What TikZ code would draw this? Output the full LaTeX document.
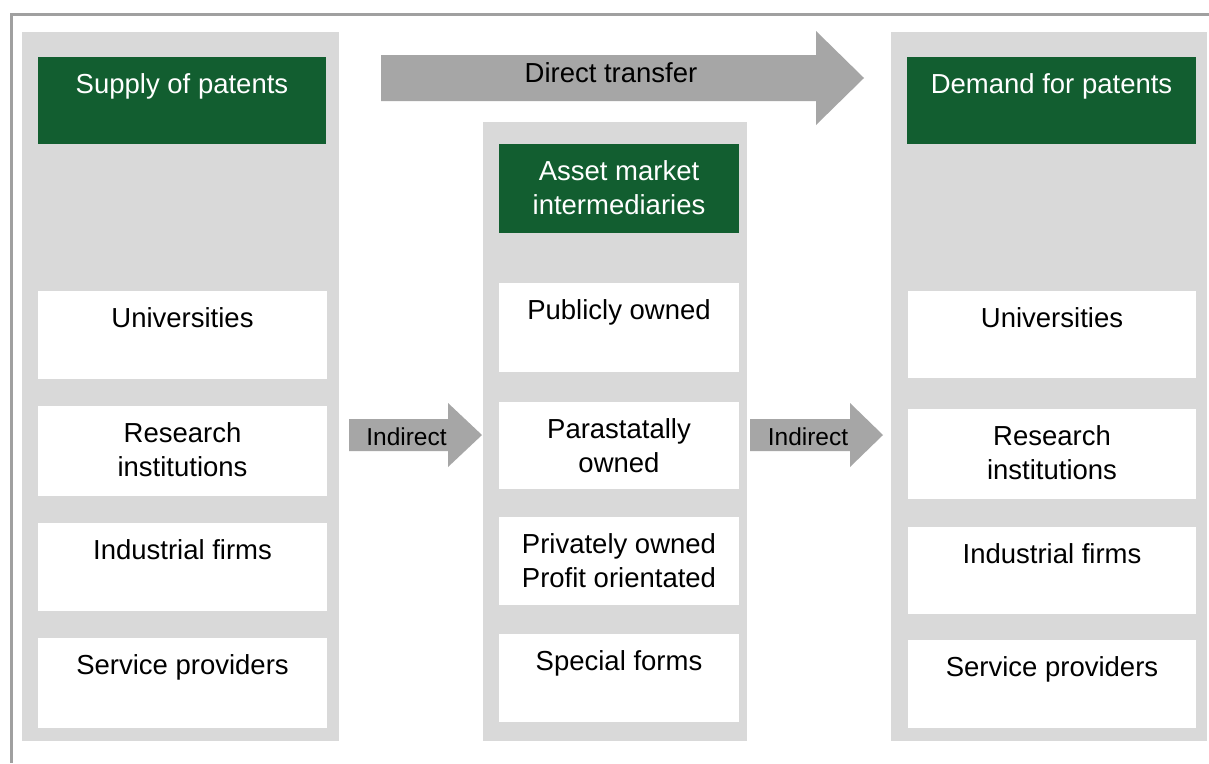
\documentclass[tikz,border=0pt]{standalone}
\usepackage{fontspec}
\setmainfont{Liberation Sans}
\definecolor{hdrgreen}{RGB}{18,94,48}
\definecolor{colgray}{RGB}{217,217,217}
\definecolor{arrgray}{RGB}{166,166,166}
\definecolor{framegray}{RGB}{160,160,160}
\newcommand\mkbox[7]{%
  \node[#7, minimum width=#4pt, minimum height=#5pt, anchor=north west] (#1) at (#2,#3) {};
  \node[#7txt, anchor=north] (#1t) at ([yshift=-17pt]#1.north) {#6};}
\begin{document}
\begin{tikzpicture}[x=1pt,y=-1pt,
  every node/.style={inner sep=0pt, outer sep=0pt},
  colbg/.style={fill=colgray, draw=none, rectangle},
  wbox/.style={fill=white, draw=none, rectangle},
  gbox/.style={fill=hdrgreen, draw=none, rectangle},
  wboxtxt/.style={align=center, text=black, font=\fontsize{27.5}{34}\selectfont},
  gboxtxt/.style={align=center, text=white, font=\fontsize{27.5}{34}\selectfont},
  blockarrow/.style={fill=arrgray, draw=none},
  arrtxt/.style={text=black, anchor=base}]
\useasboundingbox (0,0) rectangle (1209,763);
\fill[white] (0,0) rectangle (1209,763);
% frame
\draw[framegray, line width=3pt] (1209,14) -- (11,14) -- (11,763);
% column backgrounds
\node[colbg, minimum width=317pt, minimum height=709pt, anchor=north west] (supcol) at (22,32) {};
\node[colbg, minimum width=264pt, minimum height=619pt, anchor=north west] (midcol) at (483,122) {};
\node[colbg, minimum width=316pt, minimum height=709pt, anchor=north west] (demcol) at (891,32) {};
% headers
\mkbox{suph}{38}{57}{288}{87}{Supply of patents}{gbox}
\mkbox{midh}{499}{144}{240}{89}{Asset market\\intermediaries}{gbox}
\mkbox{demh}{907}{57}{289}{87}{Demand for patents}{gbox}
% left column
\mkbox{s1}{38}{291}{289}{88}{Universities}{wbox}
\mkbox{s2}{38}{406}{289}{90}{Research\\institutions}{wbox}
\mkbox{s3}{38}{523}{289}{88}{Industrial firms}{wbox}
\mkbox{s4}{38}{638}{289}{90}{Service providers}{wbox}
% middle column
\mkbox{m1}{499}{283}{240}{89}{Publicly owned}{wbox}
\mkbox{m2}{499}{402}{240}{87}{Parastatally\\owned}{wbox}
\mkbox{m3}{499}{517}{240}{88}{Privately owned\\Profit orientated}{wbox}
\mkbox{m4}{499}{634}{240}{88}{Special forms}{wbox}
% right column
\mkbox{d1}{908}{291}{288}{87}{Universities}{wbox}
\mkbox{d2}{908}{409}{288}{90}{Research\\institutions}{wbox}
\mkbox{d3}{908}{527}{288}{87}{Industrial firms}{wbox}
\mkbox{d4}{908}{640}{288}{88}{Service providers}{wbox}
% block arrows
\fill[blockarrow] (381,55) -- (816,55) -- (816,31) -- (864,78) -- (816,125) -- (816,101) -- (381,101) -- cycle;
\node[arrtxt, font=\fontsize{27.5}{32}\selectfont] (directt) at (611,82) {Direct transfer};
\fill[blockarrow] (349,419) -- (448,419) -- (448,403) -- (482,435) -- (448,467) -- (448,451) -- (349,451) -- cycle;
\node[arrtxt, font=\fontsize{24.5}{29}\selectfont] (ind1t) at (406.5,445) {Indirect};
\fill[blockarrow] (750,419) -- (850,419) -- (850,403) -- (883,435) -- (850,467) -- (850,451) -- (750,451) -- cycle;
\node[arrtxt, font=\fontsize{24.5}{29}\selectfont] (ind2t) at (808,445) {Indirect};
\end{tikzpicture}
\end{document}
